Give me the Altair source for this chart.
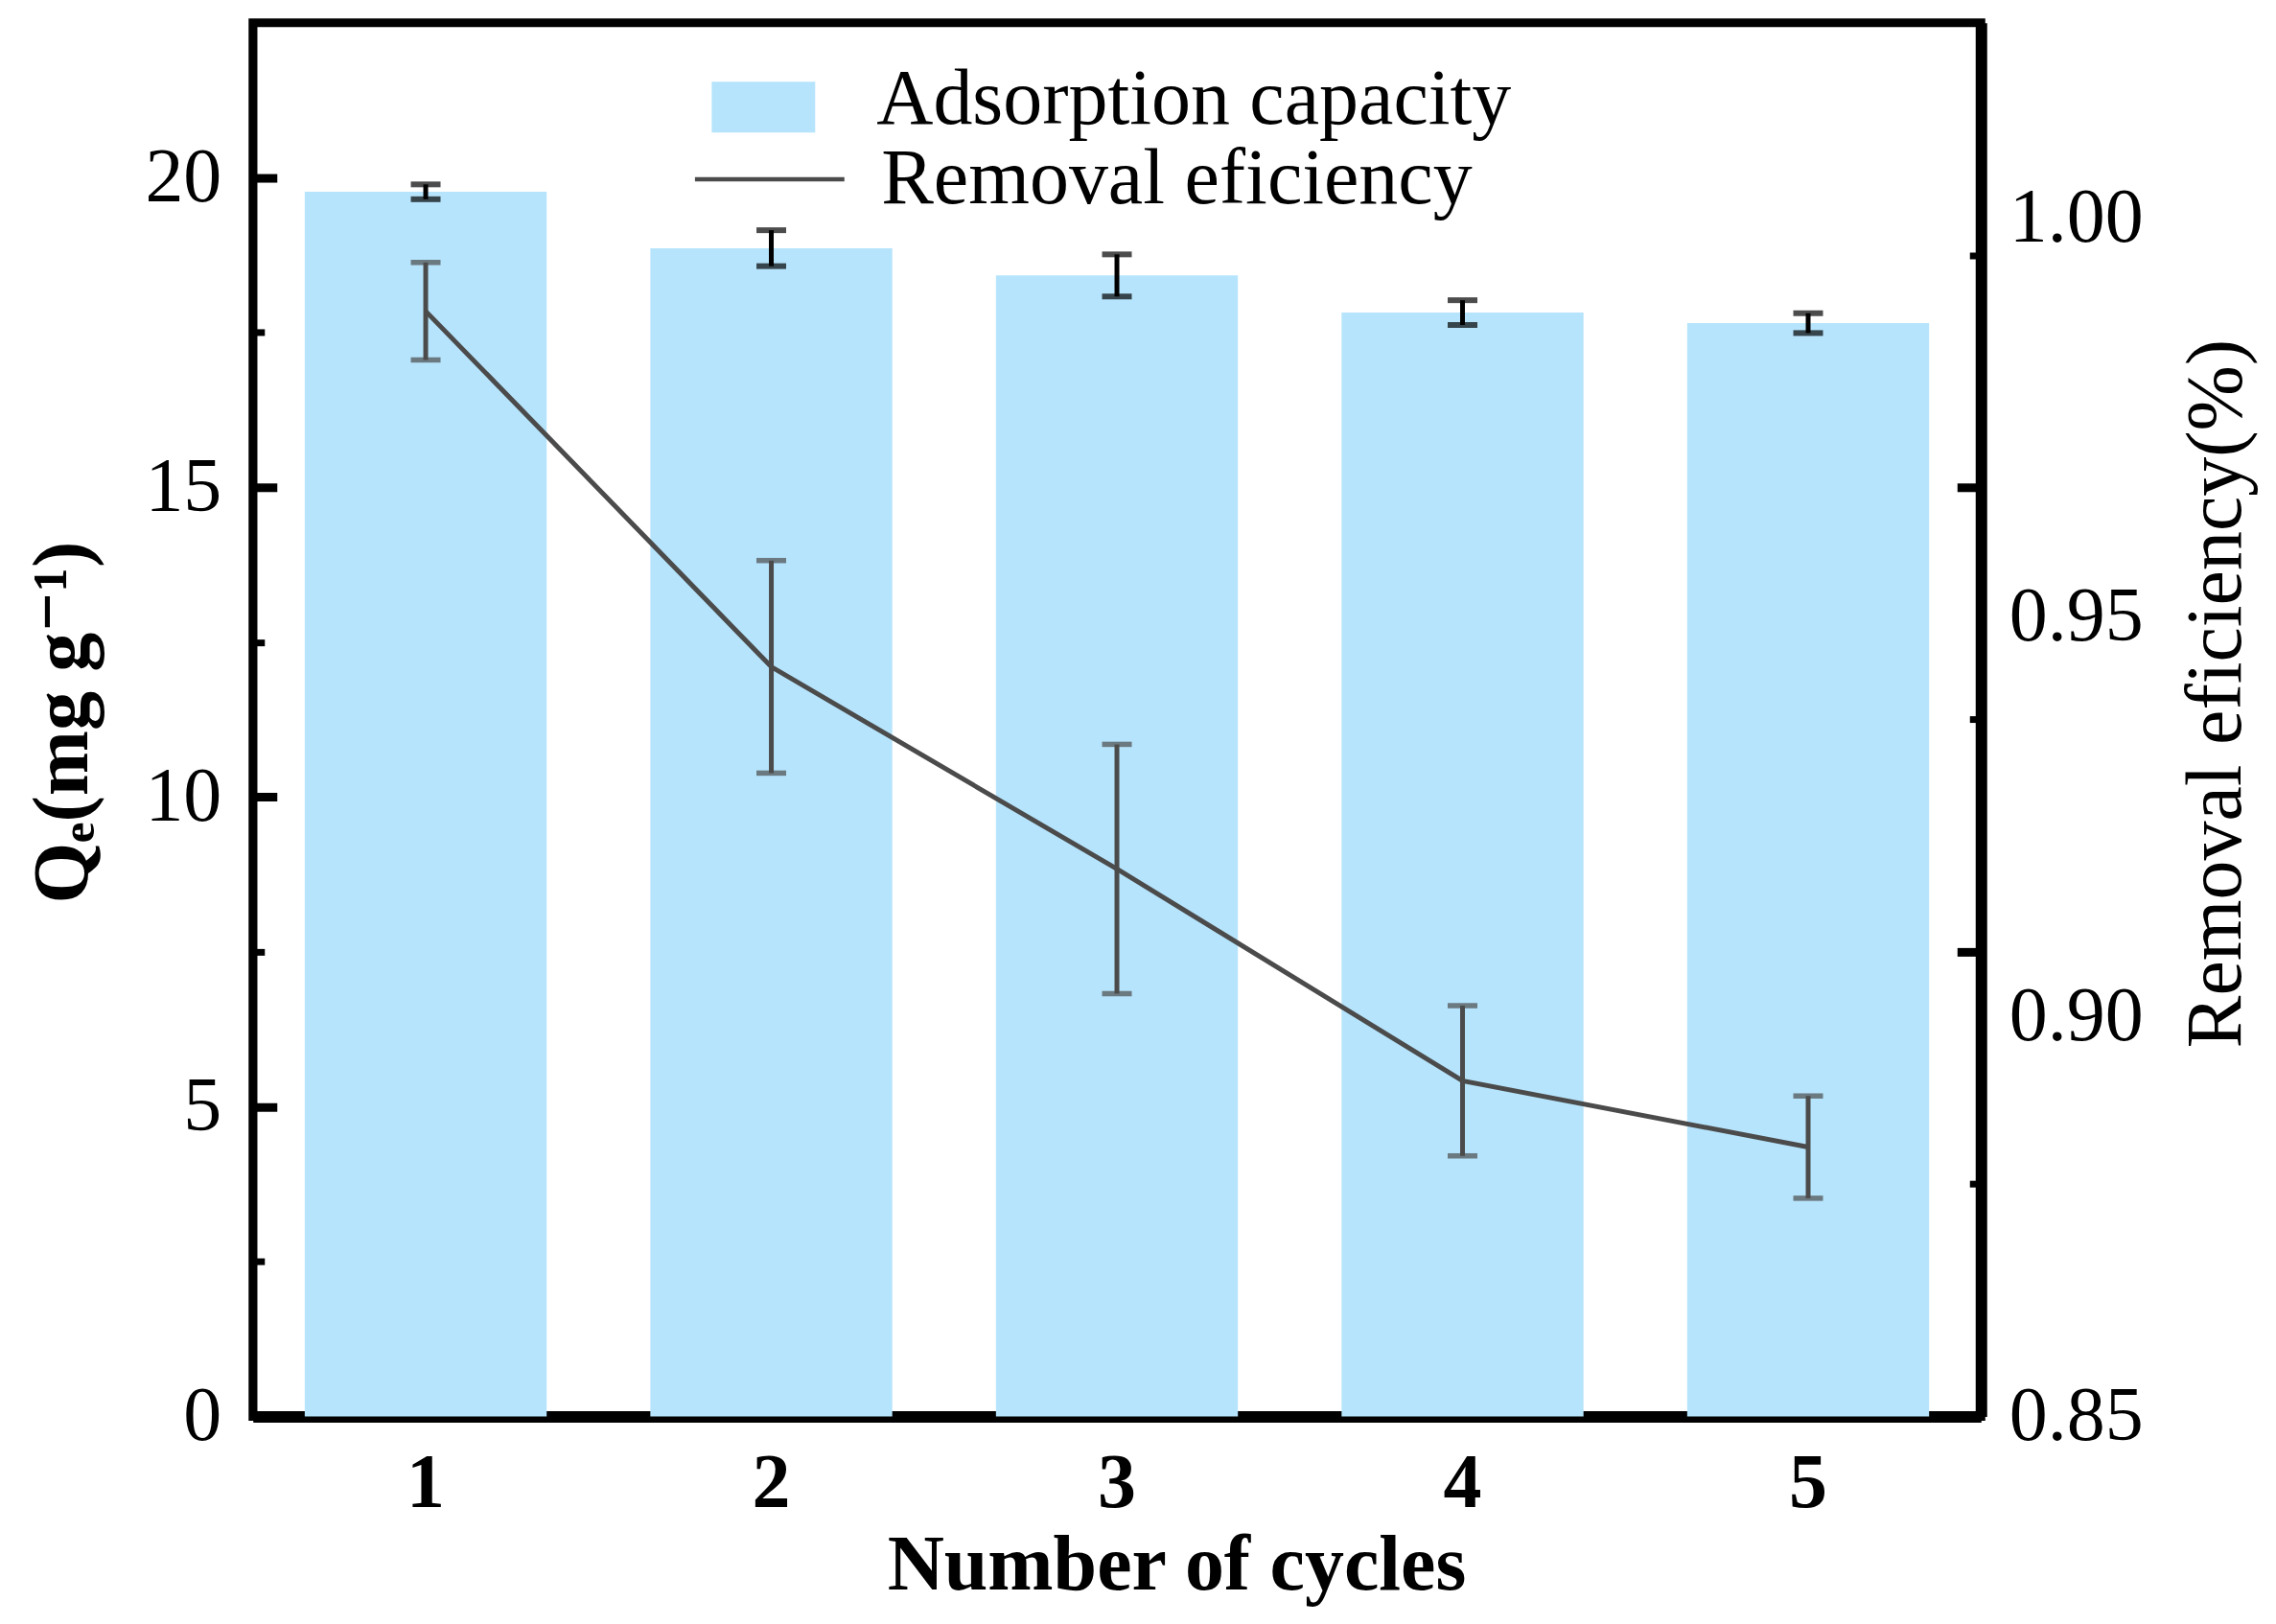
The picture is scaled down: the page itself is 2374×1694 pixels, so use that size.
import altair as alt
import pandas as pd

# ---------------- data ----------------
cycles = [1, 2, 3, 4, 5]
qe = [19.77, 18.86, 18.42, 17.82, 17.65]
qe_err = [0.12, 0.29, 0.34, 0.20, 0.16]
removal = [0.9883, 0.9438, 0.9185, 0.8920, 0.8837]
removal_err = [0.0061, 0.0133, 0.0156, 0.0094, 0.0064]

# axis settings
left_domain = [0, 22.5]
right_domain = [0.85, 1.0244]
left_major = [0, 5, 10, 15, 20]
left_minor = [2.5, 7.5, 12.5, 17.5]
right_label_values = [0.85, 0.90, 0.95, 1.00]
right_major = [0.9081, 0.9663]
right_minor = [0.8791, 0.9372, 0.9953]

FONT = "Liberation Serif, Times New Roman, DejaVu Serif, serif"
BAR_COLOR = "#B6E4FC"
LINE_COLOR = "#4B4B4B"

W, H = 1804, 1455

df = pd.DataFrame({
    "cycle": cycles,
    "qe": qe,
    "qe_err": qe_err,
    "re": removal,
    "re_err": removal_err,
})

base = alt.Chart(df).transform_calculate(
    qe_lo="datum.qe - datum.qe_err",
    qe_hi="datum.qe + datum.qe_err",
    re_lo="datum.re - datum.re_err",
    re_hi="datum.re + datum.re_err",
    bar_series="'Adsorption capacity'",
    line_series="'Removal eficiency'",
)

xscale = alt.Scale(paddingInner=0.3, paddingOuter=0.15)
lscale = alt.Scale(domain=left_domain, nice=False, zero=False)
rscale = alt.Scale(domain=right_domain, nice=False, zero=False)

x_labels = alt.X(
    "cycle:O", scale=xscale,
    axis=alt.Axis(
        orient="bottom", title="Number of cycles", grid=False,
        labelAngle=0, labelFont=FONT, labelFontSize=80, labelFontWeight="bold",
        labelColor="black", labelPadding=31, labelBaseline="top",
        ticks=False, tickSize=0,
        domain=True, domainWidth=12, domainColor="black",
        titleFont=FONT, titleFontSize=82, titleFontWeight="bold", titleColor="black",
        titleX=964, titleY=180, titleBaseline="alphabetic", titleAlign="center",
    ),
)
x_ticks = alt.X(
    "cycle:O", scale=xscale,
    axis=alt.Axis(
        orient="bottom", title=None, grid=False, labels=False, domain=False,
        ticks=True, tickSize=26, tickWidth=5, tickColor="black", offset=-26,
    ),
)
x_none = alt.X("cycle:O", scale=xscale, axis=None)

# ---- left group ----
bars = base.mark_bar(color=BAR_COLOR).encode(
    x=x_labels,
    y=alt.Y(
        "qe:Q", scale=lscale,
        axis=alt.Axis(
            orient="left", values=left_major, format="d", grid=False,
            labelFont=FONT, labelFontSize=80, labelColor="black", labelPadding=33,
            labelFlush=False, ticks=False, tickSize=0,
            domain=True, domainWidth=8, domainColor="black",
            title="Qₑ(mg g⁻¹)", titleFont=FONT, titleFontSize=82, titleFontWeight="bold",
            titleColor="black", titleAngle=270, titleX=-173, titleY=730,
            titleBaseline="alphabetic", titleAlign="center",
        ),
    ),
    color=alt.Color(
        "bar_series:N",
        scale=alt.Scale(domain=["Adsorption capacity"], range=[BAR_COLOR]),
        legend=alt.Legend(
            orient="none", legendX=479, legendY=26, title=None, padding=0,
            symbolType="M-1,-0.34H1V0.64H-1Z", symbolSize=11664, symbolStrokeWidth=0,
            labelFont=FONT, labelFontSize=82, labelColor="black", labelOffset=64,
            labelLimit=2000,
        ),
    ),
)

bar_err = base.mark_rule(color="black", strokeWidth=5).encode(
    x=x_ticks,
    y=alt.Y(
        "qe_lo:Q", scale=lscale,
        axis=alt.Axis(
            orient="left", values=left_major, labels=False, domain=False, grid=False,
            ticks=True, tickSize=25, tickWidth=9, tickColor="black", offset=-25, title=None,
        ),
    ),
    y2="qe_hi:Q",
)

bar_caps = base.transform_fold(["qe_lo", "qe_hi"], as_=["k", "v"]).mark_tick(
    color="black", size=31, thickness=6
).encode(
    x=x_none,
    y=alt.Y(
        "v:Q", scale=lscale,
        axis=alt.Axis(
            orient="left", values=left_minor, labels=False, domain=False, grid=False,
            ticks=True, tickSize=12, tickWidth=7, tickColor="black", offset=-12, title=None,
        ),
    ),
)

# ---- right group ----
line = base.mark_line(strokeWidth=5).encode(
    x=x_none,
    y=alt.Y(
        "re:Q", scale=rscale,
        axis=alt.Axis(
            orient="right", values=right_label_values, format=".2f", grid=False,
            labelFont=FONT, labelFontSize=80, labelColor="black", labelPadding=29,
            labelFlush=False, ticks=False, tickSize=0,
            domain=True, domainWidth=12, domainColor="black",
            title="Removal eficiency(%)", titleFont=FONT, titleFontSize=82,
            titleFontWeight="normal", titleColor="black", titleAngle=270,
            titleX=270, titleY=700, titleBaseline="alphabetic", titleAlign="center",
        ),
    ),
    stroke=alt.Stroke(
        "line_series:N",
        scale=alt.Scale(domain=["Removal eficiency"], range=[LINE_COLOR]),
        legend=alt.Legend(
            orient="none", legendX=459, legendY=83, title=None, padding=0,
            symbolType="stroke", symbolSize=24336, symbolStrokeWidth=4.5,
            labelFont=FONT, labelFontSize=82, labelColor="black", labelOffset=36,
            labelLimit=2000,
        ),
    ),
)

line_err = base.mark_rule(color=LINE_COLOR, strokeWidth=5).encode(
    x=x_none,
    y=alt.Y(
        "re_lo:Q", scale=rscale,
        axis=alt.Axis(
            orient="right", values=right_major, labels=False, domain=False, grid=False,
            ticks=True, tickSize=25, tickWidth=9, tickColor="black", offset=-25, title=None,
        ),
    ),
    y2="re_hi:Q",
)

line_caps = base.transform_fold(["re_lo", "re_hi"], as_=["k", "v"]).mark_tick(
    color=LINE_COLOR, size=31, thickness=5.5
).encode(
    x=x_none,
    y=alt.Y(
        "v:Q", scale=rscale,
        axis=alt.Axis(
            orient="right", values=right_minor, labels=False, domain=False, grid=False,
            ticks=True, tickSize=12, tickWidth=7, tickColor="black", offset=-12, title=None,
        ),
    ),
)

chart = alt.layer(
    bars, line_err, line_caps, line, bar_err, bar_caps
).resolve_scale(
    y="independent", color="independent", stroke="independent"
).resolve_axis(
    y="independent", x="independent"
).properties(
    width=W, height=H,
    autosize=alt.AutoSizeParams(type="none"),
    padding={"left": 256, "top": 15, "right": 300, "bottom": 205},
    background="white",
).configure_view(
    stroke="black", strokeWidth=9
)

chart.save("out.html", embed_options={"renderer": "svg", "actions": False})
